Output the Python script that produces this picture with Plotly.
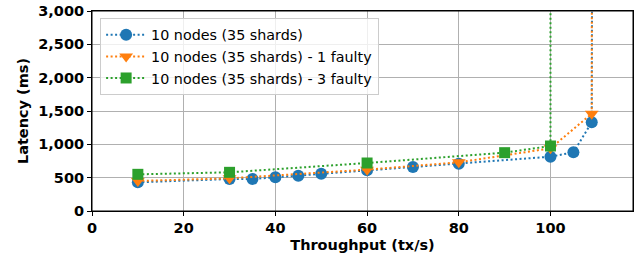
import plotly.graph_objects as go

BIG = 20000  # latency beyond the axis (saturation)

x_blue = [10, 30, 35, 40, 45, 50, 60, 70, 80, 100, 105, 109, 109.7]
y_blue = [430, 480, 480, 505, 530, 560, 610, 660, 710, 815, 880, 1330, BIG]

x_orange = [10, 30, 60, 80, 100, 109, 109.2]
y_orange = [450, 490, 620, 730, 940, 1460, BIG]

x_green = [10, 30, 60, 90, 100, 100.05]
y_green = [550, 580, 720, 875, 975, BIG]

names = ["10 nodes (35 shards)", "10 nodes (35 shards) - 1 faulty", "10 nodes (35 shards) - 3 faulty"]
colors = ["#1f77b4", "#ff7f0e", "#2ca02c"]
symbols = ["circle", "triangle-down", "square"]

fig = go.Figure()
for xs, ys, n, c, s in zip([x_blue, x_orange, x_green], [y_blue, y_orange, y_green], names, colors, symbols):
    fig.add_trace(go.Scatter(
        x=xs, y=ys, name=n, mode="lines+markers",
        line=dict(color=c, width=2, dash="2px,2.5px"),
        marker=dict(symbol=s, size=12 if s != "square" else 11, color=c),
    ))

axis_common = dict(
    showline=True, linecolor="black", linewidth=1, mirror=True,
    showgrid=True, gridcolor="#b0b0b0", gridwidth=1,
    ticks="outside", ticklen=4, tickcolor="black", zeroline=False,
    automargin=False,
    tickfont=dict(family="DejaVu Sans", size=14.5, color="black", weight="bold"),
)

fig.update_layout(
    width=644, height=261,
    margin=dict(l=92, r=11, t=11, b=50, autoexpand=False),
    plot_bgcolor="white", paper_bgcolor="white",
    font=dict(family="DejaVu Sans", size=14.3, color="black"),
    xaxis=dict(range=[0, 118], dtick=20, tick0=0,
               title=dict(text="<b>Throughput (tx/s)</b>", standoff=4, font=dict(size=14.5)),
               **axis_common),
    yaxis=dict(range=[0, 3000], dtick=500, tickformat=",",
               title=dict(text="<b>Latency (ms)</b>", standoff=6, font=dict(size=14.5)),
               **axis_common),
    legend=dict(x=0.015, y=0.965, xanchor="left", yanchor="top",
                bgcolor="rgba(255,255,255,0.8)", bordercolor="#cccccc", borderwidth=1,
                font=dict(size=14.3), tracegroupgap=0, itemwidth=40),
    showlegend=True,
    shapes=[dict(type="rect", xref="paper", yref="paper", x0=0, x1=1, y0=0, y1=1,
                 line=dict(color="black", width=1), layer="above")],
)

fig.write_html("out.html", config={"displayModeBar": False},
               post_script="document.body.style.margin='0';document.body.style.overflow='hidden';")
